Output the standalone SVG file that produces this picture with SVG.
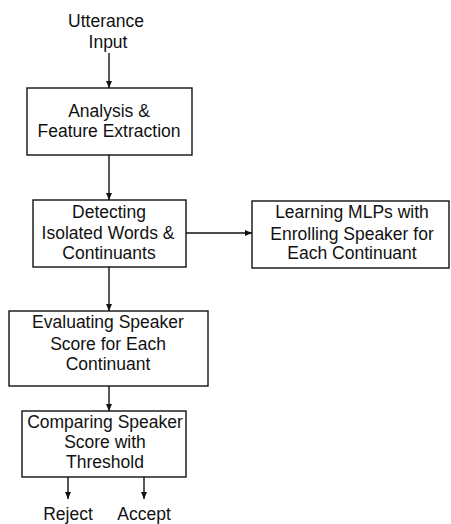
<svg xmlns="http://www.w3.org/2000/svg" width="451" height="524" viewBox="0 0 451 524">
<defs>
<marker id="ah" markerWidth="8" markerHeight="8" refX="7" refY="4" orient="auto" markerUnits="userSpaceOnUse">
<path d="M0,1 L7,4 L0,7 Z" fill="#111"/>
</marker>
<style>
.box{fill:#fff;stroke:#111;stroke-width:1.4}
.t{font-family:"Liberation Sans",Arial,sans-serif;font-size:17.5px;fill:#111;text-anchor:middle}
.c{stroke:#111;stroke-width:1.4;fill:none;marker-end:url(#ah)}
</style>
</defs>
<rect width="451" height="524" fill="#fff"/>
<g id="input">
<text class="t" x="106" y="27">Utterance</text>
<text class="t" x="108" y="48">Input</text>
</g>
<g id="analysis">
<rect class="box" x="27" y="88" width="165" height="67"/>
<text class="t" x="109" y="117">Analysis &amp;</text>
<text class="t" x="109" y="137">Feature Extraction</text>
</g>
<g id="detecting">
<rect class="box" x="33" y="200" width="153" height="67"/>
<text class="t" x="109" y="218">Detecting</text>
<text class="t" x="108" y="239">Isolated Words &amp;</text>
<text class="t" x="109" y="259">Continuants</text>
</g>
<g id="learning">
<rect class="box" x="252" y="201" width="197" height="67"/>
<text class="t" x="352" y="218">Learning MLPs with</text>
<text class="t" x="352" y="240">Enrolling Speaker for</text>
<text class="t" x="352" y="259">Each Continuant</text>
</g>
<g id="evaluating">
<rect class="box" x="9" y="311" width="199" height="75"/>
<text class="t" x="108" y="328">Evaluating Speaker</text>
<text class="t" x="108" y="350">Score for Each</text>
<text class="t" x="108" y="370">Continuant</text>
</g>
<g id="comparing">
<rect class="box" x="22" y="411" width="164" height="66"/>
<text class="t" x="105" y="428">Comparing Speaker</text>
<text class="t" x="105" y="448">Score with</text>
<text class="t" x="105" y="468">Threshold</text>
</g>
<g id="reject">
<text class="t" x="68" y="520">Reject</text>
</g>
<g id="accept">
<text class="t" x="144" y="520">Accept</text>
</g>
<g id="connectors">
<line class="c" x1="109" y1="53" x2="109" y2="88"/>
<line class="c" x1="109" y1="155" x2="109" y2="200"/>
<line class="c" x1="186" y1="233" x2="252" y2="233"/>
<line class="c" x1="109" y1="267" x2="109" y2="311"/>
<line class="c" x1="109" y1="386" x2="109" y2="411"/>
<line class="c" x1="68" y1="477" x2="68" y2="499"/>
<line class="c" x1="144" y1="477" x2="144" y2="499"/>
</g>
</svg>
